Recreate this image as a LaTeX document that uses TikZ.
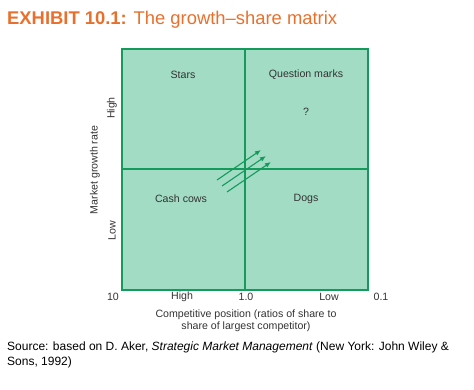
\documentclass[tikz,border=0pt]{standalone}
\usepackage{fontspec}
\setmainfont{Liberation Sans}
\usepackage{xcolor}
\usetikzlibrary{arrows.meta}
\definecolor{matfill}{HTML}{A2DCC4}
\definecolor{matline}{HTML}{149B5C}
\definecolor{exhibit}{HTML}{E8702C}
\definecolor{labtext}{HTML}{333333}

\begin{document}
\begin{tikzpicture}[x=1pt, y=-1pt, every node/.style={font=\fontsize{10.6}{12.5}\selectfont, text=labtext, inner sep=0pt}]
\useasboundingbox (0,0) rectangle (474,389);
\node[anchor=west, text=exhibit, font=\fontsize{18.4}{20}\selectfont] (title) at (7,20) {\textbf{EXHIBIT 10.1:} The growth--share matrix};
% the matrix
\draw[matline, fill=matfill, line width=1.5pt] (122,49) rectangle (368,290);
\draw[matline, line width=1.5pt] (245,49) -- (245,290) (122,169) -- (368,169);
\node (stars) at (183,75) {Stars};
\node (qmarks) at (306,75) {Question marks};
\node (qsign) at (306,112) {?};
\node (cows) at (181,199) {Cash cows};
\node (dogs) at (306,199) {Dogs};
% arrows across the centre
\foreach \i/\dx/\dy in {1/0/0,2/5/6,3/10/12} {
  \coordinate (a\i) at (217+\dx,180+\dy);
  \coordinate (b\i) at (261+\dx,150+\dy);
  \draw[matline, line width=1.1pt, -{Latex[length=6pt,width=5pt]}] (a\i) -- (b\i);
}
% axis labels
\node[rotate=90] (yhigh) at (112,108) {High};
\node[rotate=90] (ylow) at (112,231) {Low};
\node[rotate=90] (ytitle) at (95,170) {Market growth rate};
\foreach \x/\t/\n in {113/10/ten,182/High/xhigh,246/1.0/one,329/Low/xlow,381/0.1/tenth}
  \node (\n) at (\x,297) {\t};
\node[align=center] (xtitle) at (246,321) {Competitive position (ratios of share to\\share of largest competitor)};
% source
\node[anchor=north west, align=left, text=black, font=\fontsize{12}{14.5}\selectfont] (source) at (7,342)
  {Source: based on D. Aker, \textit{Strategic Market Management} (New York: John Wiley \&\\Sons, 1992)};
\end{tikzpicture}
\end{document}
